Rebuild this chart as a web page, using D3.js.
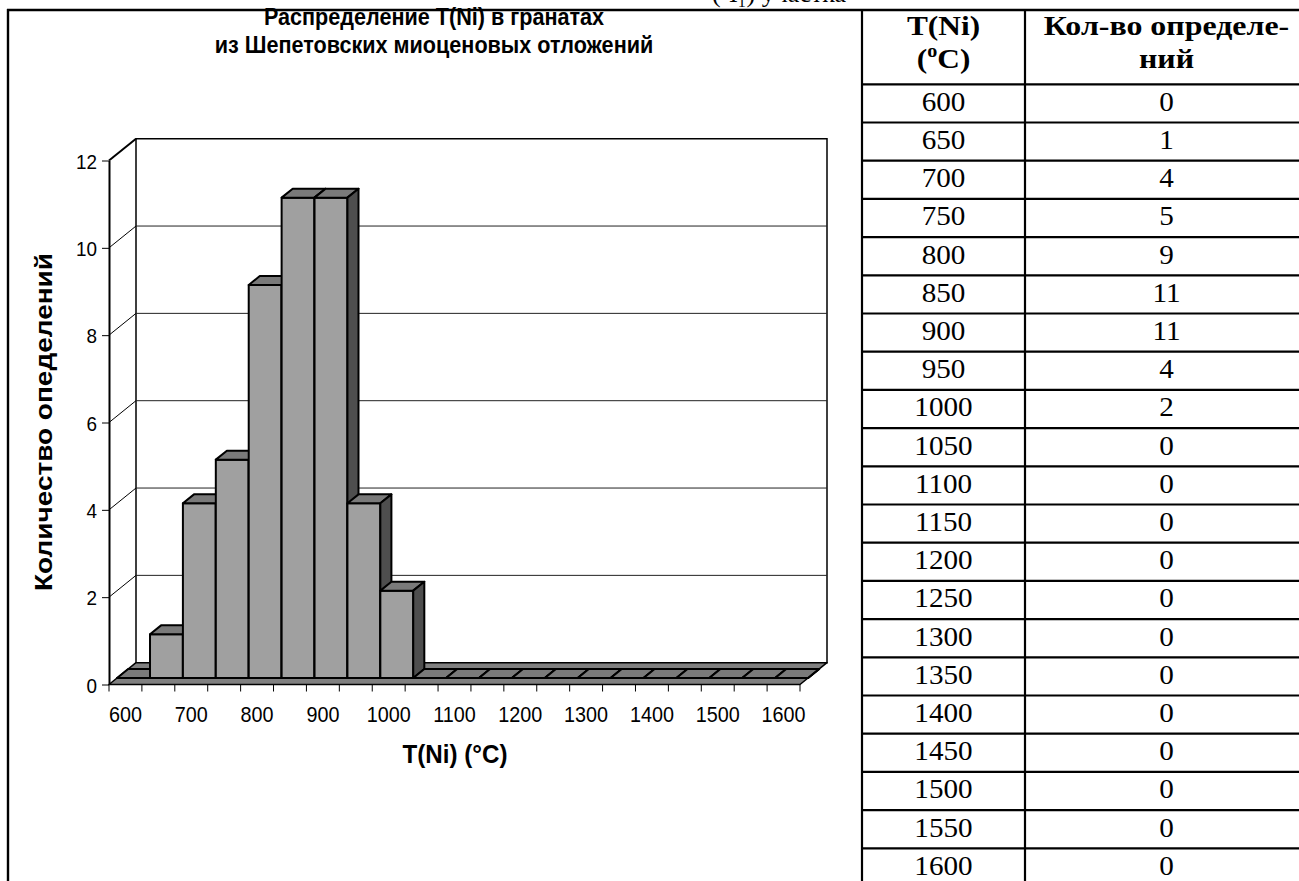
<!DOCTYPE html>
<html>
<head>
<meta charset="utf-8">
<script src="https://cdn.jsdelivr.net/npm/d3@7/dist/d3.min.js"></script>
<style>
  body { margin: 0; background: #fff; }
  svg { display: block; }
</style>
</head>
<body>
<svg id="main"></svg>
<script>
var temps = [600, 650, 700, 750, 800, 850, 900, 950, 1000, 1050, 1100,
             1150, 1200, 1250, 1300, 1350, 1400, 1450, 1500, 1550, 1600];
var counts = [0, 1, 4, 5, 9, 11, 11, 4, 2, 0, 0, 0, 0, 0, 0, 0, 0, 0, 0, 0, 0];
var xLabels = [600, 700, 800, 900, 1000, 1100, 1200, 1300, 1400, 1500, 1600];
var yTicks = [0, 2, 4, 6, 8, 10, 12];
var gridVals = [2, 4, 6, 8, 10];
var titleLines = ["Распределение T(Ni) в гранатах", "из Шепетовских миоценовых отложений"];
var yTitle = "Количество опеделений";
var xTitle = "T(Ni) (°C)";
var headTemp = ["T(Ni)", "C)"];
var headCount = ["Кол-во определе-", "ний"];
var topCaption = "(Ч₁) участка";

var w = 1299;
var h = 881;

var svg = d3.select("#main")
  .attr("width", w)
  .attr("height", h);

// text in the picture is squeezed a little horizontally
var sans = "'Liberation Sans', Arial, sans-serif";
var serif = "'Liberation Serif', 'Times New Roman', serif";

// ---------- 3d chart ----------
var x = d3.scaleBand().domain(temps).range([109, 800]).padding(0);
var y = d3.scaleLinear().domain([0, 12]).range([684.5, 160.5]);
var bw = x.bandwidth();
var DX = 27, DY = 21.8;   // full depth offset
var F0 = 0.3, F1 = 0.71;  // bar depth position

function P(px, v, f) {
  return [px + f * DX, y(v) - f * DY];
}
function poly(pts) {
  return pts.map(function(p) { return p[0] + "," + p[1]; }).join(" ");
}

var chart = svg.append("g");
var x0 = x.range()[0], x1 = x.range()[1];

// back wall
chart.append("polygon")
  .attr("points", poly([P(x0, 0, 1), P(x1, 0, 1), P(x1, 12, 1), P(x0, 12, 1)]))
  .attr("fill", "#fff")
  .attr("stroke", "#000")
  .attr("stroke-width", 1.5);

// gridlines: back wall + side wall
chart.selectAll(".gridb")
  .data(gridVals)
  .enter()
  .append("line")
  .attr("x1", function(d) { return P(x0, d, 1)[0]; })
  .attr("y1", function(d) { return P(x0, d, 1)[1]; })
  .attr("x2", function(d) { return P(x1, d, 1)[0]; })
  .attr("y2", function(d) { return P(x1, d, 1)[1]; })
  .attr("stroke", "#222")
  .attr("stroke-width", 1);

chart.selectAll(".grids")
  .data(gridVals.concat([12]))
  .enter()
  .append("line")
  .attr("x1", function(d) { return P(x0, d, 0)[0]; })
  .attr("y1", function(d) { return P(x0, d, 0)[1]; })
  .attr("x2", function(d) { return P(x0, d, 1)[0]; })
  .attr("y2", function(d) { return P(x0, d, 1)[1]; })
  .attr("stroke", "#000")
  .attr("stroke-width", function(d) { return d == 12 ? 2 : 1; });

// floor
chart.append("polygon")
  .attr("points", poly([P(x0, 0, 0), P(x1, 0, 0), P(x1, 0, 1), P(x0, 0, 1)]))
  .attr("fill", "#808080")
  .attr("stroke", "#000")
  .attr("stroke-width", 1.5)
  .attr("stroke-linejoin", "round");

// bars, left to right
var bars = chart.selectAll(".bar")
  .data(temps)
  .enter()
  .append("g")
  .attr("stroke", "#000")
  .attr("stroke-width", 2)
  .attr("stroke-linejoin", "round");

bars.append("polygon")
  .attr("fill", "#a0a0a0")
  .attr("points", function(d, i) {
    var a = x(d), b = a + bw, v = counts[i];
    return poly([P(a, 0, F0), P(b, 0, F0), P(b, v, F0), P(a, v, F0)]);
  });
bars.append("polygon")
  .attr("fill", "#7a7a7a")
  .attr("points", function(d, i) {
    var a = x(d), b = a + bw, v = counts[i];
    return poly([P(a, v, F0), P(b, v, F0), P(b, v, F1), P(a, v, F1)]);
  });
bars.append("polygon")
  .attr("fill", "#4e4e4e")
  .attr("points", function(d, i) {
    var b = x(d) + bw, v = counts[i];
    return poly([P(b, 0, F0), P(b, v, F0), P(b, v, F1), P(b, 0, F1)]);
  });

// y axis
var yAxis = d3.axisLeft(y).tickValues(yTicks).tickSize(7).tickSizeOuter(0);
var gy = chart.append("g")
  .attr("transform", "translate(" + x0 + ",0)")
  .call(yAxis);
gy.select(".domain").attr("stroke", "#000").attr("stroke-width", 2);
gy.selectAll(".tick line").attr("stroke", "#000").attr("stroke-width", 1);
gy.selectAll(".tick text")
  .attr("x", 0)
  .attr("dy", "0.36em")
  .attr("transform", "translate(-12,0) scale(0.9,1)")
  .attr("font-family", sans)
  .attr("font-size", 21)
  .attr("fill", "#000");

// x axis: ticks at category boundaries, labels at centres
var bounds = temps.map(function(d) { return x(d); }).concat([x1]);
chart.selectAll(".xtick")
  .data(bounds)
  .enter()
  .append("line")
  .attr("x1", function(d) { return d; })
  .attr("x2", function(d) { return d; })
  .attr("y1", y(0))
  .attr("y2", y(0) + 7)
  .attr("stroke", "#000")
  .attr("stroke-width", 1);

var xAxis = d3.axisBottom(x).tickValues(xLabels).tickSize(0);
var gx = chart.append("g")
  .attr("transform", "translate(0," + y(0) + ")")
  .call(xAxis);
gx.select(".domain").remove();
gx.selectAll(".tick text")
  .attr("y", 0)
  .attr("dy", 0)
  .attr("transform", "translate(0,37) scale(0.9,1)")
  .attr("font-family", sans)
  .attr("font-size", 22)
  .attr("fill", "#000");

// titles
chart.selectAll(".title")
  .data(titleLines)
  .enter()
  .append("text")
  .attr("text-anchor", "middle")
  .attr("transform", function(d, i) {
    return "translate(434," + (25 + i * 28) + ") scale(0.9,1)";
  })
  .attr("font-family", sans)
  .attr("font-weight", "bold")
  .attr("font-size", 24)
  .text(function(d) { return d; });

chart.append("text")
  .attr("text-anchor", "middle")
  .attr("transform", "translate(52,422) scale(0.88,1) rotate(-90)")
  .attr("font-family", sans)
  .attr("font-weight", "bold")
  .attr("font-size", 28)
  .text(yTitle);

chart.append("text")
  .attr("text-anchor", "middle")
  .attr("transform", "translate(455,763) scale(0.93,1)")
  .attr("font-family", sans)
  .attr("font-weight", "bold")
  .attr("font-size", 26)
  .text(xTitle);

// ---------- table ----------
var colX = [862, 1025, 1308];
var rowTop = 84.3, rowH = 38.2;
var tbl = svg.append("g");

tbl.selectAll(".row")
  .data(temps)
  .enter()
  .append("line")
  .attr("x1", colX[0])
  .attr("x2", w)
  .attr("y1", function(d, i) { return rowTop + i * rowH; })
  .attr("y2", function(d, i) { return rowTop + i * rowH; })
  .attr("stroke", "#000")
  .attr("stroke-width", 2.2);

tbl.selectAll(".col")
  .data(colX.slice(0, 2))
  .enter()
  .append("line")
  .attr("x1", function(d) { return d; })
  .attr("x2", function(d) { return d; })
  .attr("y1", 10)
  .attr("y2", h)
  .attr("stroke", "#000")
  .attr("stroke-width", 2.2);

var c1 = (colX[0] + colX[1]) / 2, c2 = (colX[1] + colX[2]) / 2;

tbl.selectAll(".tcell")
  .data(temps)
  .enter()
  .append("text")
  .attr("text-anchor", "middle")
  .attr("transform", function(d, i) {
    return "translate(" + c1 + "," + (rowTop + i * rowH + 26.5) + ") scale(1.1,1)";
  })
  .attr("font-family", serif)
  .attr("font-size", 26.5)
  .text(function(d) { return d; });

tbl.selectAll(".ccell")
  .data(counts)
  .enter()
  .append("text")
  .attr("text-anchor", "middle")
  .attr("transform", function(d, i) {
    return "translate(" + c2 + "," + (rowTop + i * rowH + 26.5) + ") scale(1.1,1)";
  })
  .attr("font-family", serif)
  .attr("font-size", 26.5)
  .text(function(d) { return d; });

// header
tbl.append("text")
  .attr("text-anchor", "middle")
  .attr("transform", "translate(" + c1 + ",35) scale(1.12,1)")
  .attr("font-family", serif)
  .attr("font-weight", "bold")
  .attr("font-size", 28)
  .text(headTemp[0]);
var hTemp2 = tbl.append("text")
  .attr("text-anchor", "middle")
  .attr("transform", "translate(" + c1 + ",68) scale(1.12,1)")
  .attr("font-family", serif)
  .attr("font-weight", "bold")
  .attr("font-size", 28);
hTemp2.append("tspan").text("(");
hTemp2.append("tspan").attr("font-size", 18).attr("dy", -11).text("o");
hTemp2.append("tspan").attr("dy", 11).text(headTemp[1]);

tbl.selectAll(".hcount")
  .data(headCount)
  .enter()
  .append("text")
  .attr("text-anchor", "middle")
  .attr("transform", function(d, i) {
    return "translate(" + c2 + "," + (35 + i * 33) + ") scale(1.14,1)";
  })
  .attr("font-family", serif)
  .attr("font-weight", "bold")
  .attr("font-size", 28)
  .text(function(d) { return d; });

// page frame
svg.append("line")
  .attr("x1", 7).attr("x2", w).attr("y1", 10).attr("y2", 10)
  .attr("stroke", "#000").attr("stroke-width", 2.4);
svg.append("line")
  .attr("x1", 8).attr("x2", 8).attr("y1", 9).attr("y2", h)
  .attr("stroke", "#000").attr("stroke-width", 2.4);

// caption cut off at the top edge of the page
svg.append("text")
  .attr("x", 712)
  .attr("y", 2)
  .attr("font-family", serif)
  .attr("font-size", 26)
  .text(topCaption);
</script>
</body>
</html>
